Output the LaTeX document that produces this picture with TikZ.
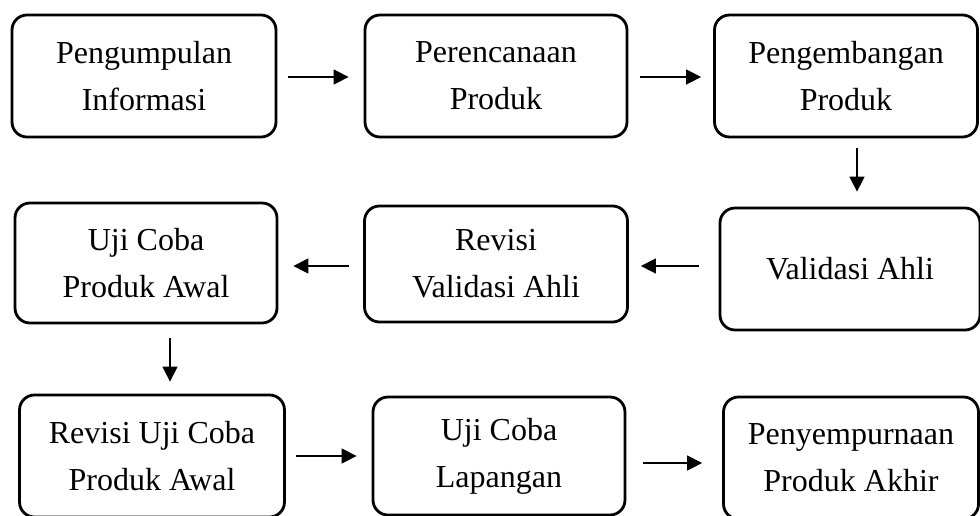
\documentclass[tikz,border=0pt]{standalone}
\usepackage{fontspec}
\setmainfont{Liberation Serif}
\usepackage{tikz}
\usetikzlibrary{arrows.meta}

\begin{document}
\begin{tikzpicture}[x=1pt,y=-1pt,
	tahap/.style={draw,line width=2.8pt,rounded corners=15pt,align=center,
		minimum width=260pt,minimum height=120pt,inner sep=0pt,
		font=\fontsize{32}{47}\selectfont},
	panah/.style={line width=1.5pt,-{Triangle[length=15pt,width=15pt]}}]

	\useasboundingbox (0,0) rectangle (980,515);

	% baris atas
	\node[tahap,minimum width=264pt,minimum height=122pt] (info) at (144,76) {Pengumpulan\\Informasi};
	\node[tahap,minimum width=262pt,minimum height=122pt] (rencana) at (496,76) {Perencanaan\\Produk};
	\node[tahap,minimum width=263pt,minimum height=122pt] (kembang) at (846,76) {Pengembangan\\Produk};

	% baris tengah
	\node[tahap,minimum height=122pt] (valid) at (850,269) {Validasi Ahli};
	\node[tahap,minimum width=263pt,minimum height=116pt] (revval) at (496,264) {Revisi\\Validasi Ahli};
	\node[tahap,minimum width=262pt] (ujiawal) at (146,263) {Uji Coba\\Produk Awal};

	% baris bawah
	\node[tahap,minimum width=265pt,minimum height=122pt] (revuji) at (152,456) {Revisi Uji Coba\\Produk Awal};
	\node[tahap,minimum width=252pt,minimum height=118pt] (lapangan) at (499,456) {Uji Coba\\Lapangan};
	\node[tahap,minimum width=255pt,minimum height=122pt] (akhir) at (851,458) {Penyempurnaan\\Produk Akhir};

	\draw[panah,shorten <=11pt,shorten >=15pt] (info.east |- 0,77) -- (rencana.west |- 0,77);
	\draw[panah,shorten <=12pt,shorten >=12pt] (rencana.east |- 0,77) -- (kembang.west |- 0,77);
	\draw[panah,shorten <=10pt,shorten >=15pt] ([xshift=11pt]kembang.south) -- ([xshift=7pt]valid.north);

	\draw[panah,shorten <=20pt,shorten >=12pt] (valid.west |- 0,266) -- (revval.east |- 0,266);
	\draw[panah,shorten <=14pt,shorten >=15pt] (revval.west |- 0,266) -- (ujiawal.east |- 0,266);
	\draw[panah,shorten <=14pt,shorten >=12pt] ([xshift=24pt]ujiawal.south) -- ([xshift=18pt]revuji.north);

	\draw[panah,shorten <=10pt,shorten >=15pt] (revuji.east |- 0,456) -- (lapangan.west |- 0,456);
	\draw[panah,shorten <=17pt,shorten >=20pt] (lapangan.east |- 0,463) -- (akhir.west |- 0,463);

\end{tikzpicture}
\end{document}
